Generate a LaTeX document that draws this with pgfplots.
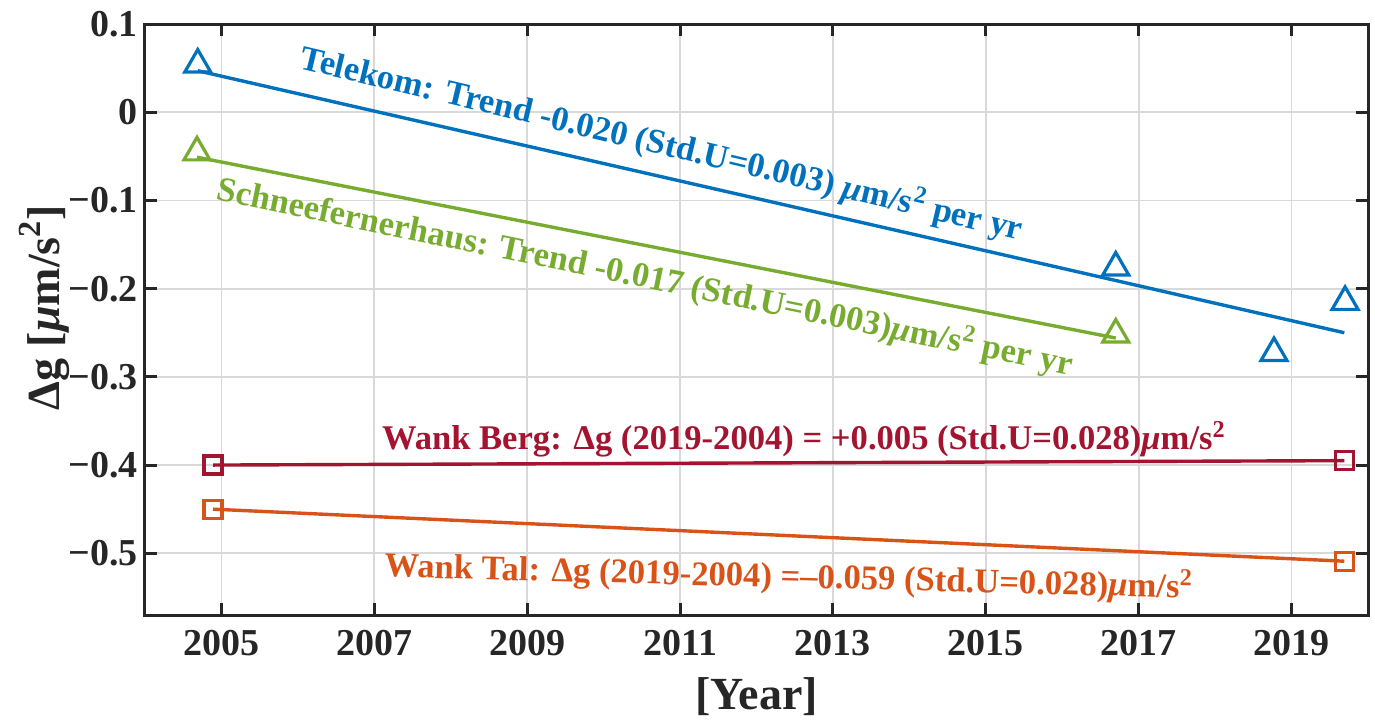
\documentclass[border=0pt]{standalone}
\usepackage{fontspec}
\setmainfont{Liberation Serif}
\usepackage{pgfplots}
\pgfplotsset{compat=1.18}
\definecolor{mblue}{rgb}{0,0.447,0.741}
\definecolor{mgreen}{rgb}{0.466,0.674,0.188}
\definecolor{mred}{rgb}{0.635,0.078,0.184}
\definecolor{morange}{rgb}{0.85,0.325,0.098}
\newcommand{\annfont}{\fontsize{17.3}{17.3}\selectfont\bfseries}
\begin{document}
\begin{tikzpicture}
\useasboundingbox (-72.5pt,-52.5pt) rectangle (615pt,307.5pt);
\begin{axis}[
  at={(0,0)}, anchor=south west,
  scale only axis, width=611.5pt, height=295.5pt,
  xmin=2004, xmax=2020, ymin=-0.57, ymax=0.1,
  xtick={2005,2007,2009,2011,2013,2015,2017,2019},
  xticklabels={2005,2007,2009,2011,2013,2015,2017,2019},
  ytick={-0.5,-0.4,-0.3,-0.2,-0.1,0,0.1},
  yticklabels={−0.5,−0.4,−0.3,−0.2,−0.1,0,0.1},
  tick align=inside, major tick length=6pt,
  axis line style={line width=1.5pt, black!85},
  every tick/.style={line width=1.5pt, black!85},
  grid=major, grid style={black!15, line width=0.9pt},
  ticklabel style={font=\fontsize{19}{19}\selectfont\bfseries, text=black!85},
  xticklabel style={yshift=-4pt},
  xlabel={[Year]},
  xlabel style={at={(axis description cs:0.5,0)}, anchor=base, yshift=-47pt, font=\fontsize{23}{23}\selectfont\bfseries, text=black!85},
  ylabel={Δg [\textit{μ}m/s\textsuperscript{2}]},
  ylabel style={at={(axis description cs:-0.0703,0.52)}, anchor=base, font=\fontsize{23}{23}\selectfont\bfseries, text=black!85},
  clip=false,
]
% Telekom
\addplot[mblue, line width=1.7pt, only marks, mark=triangle, mark size=7.5pt, mark options={line width=1.6pt}]
  coordinates {(2004.69,0.054) (2016.70,-0.176) (2018.77,-0.273) (2019.70,-0.215)};
\addplot[mblue, line width=1.7pt, no marks] coordinates {(2004.69,0.047) (2019.69,-0.250)};
% Schneefernerhaus
\addplot[mgreen, line width=1.7pt, only marks, mark=triangle, mark size=7.5pt, mark options={line width=1.6pt}]
  coordinates {(2004.68,-0.0455) (2016.70,-0.252)};
\addplot[mgreen, line width=1.7pt, no marks] coordinates {(2004.68,-0.051) (2016.70,-0.256)};
% Wank Berg
\addplot[mred, line width=1.7pt, mark=square, mark size=4.5pt, mark options={line width=1.6pt}]
  coordinates {(2004.89,-0.400) (2019.69,-0.395)};
% Wank Tal
\addplot[morange, line width=1.7pt, mark=square, mark size=4.5pt, mark options={line width=1.6pt}]
  coordinates {(2004.89,-0.450) (2019.69,-0.509)};

\node[text=mblue, rotate=-13.4, inner sep=0pt] at (axis cs:2010.76,-0.036)
  {\annfont Telekom: Trend -0.020 (Std.U=0.003) \textit{μ}m/s\textsuperscript{2} per yr};
\node[text=mgreen, rotate=-11.6, inner sep=0pt] at (axis cs:2010.54,-0.187)
  {\annfont Schneefernerhaus: Trend -0.017 (Std.U=0.003)\textit{μ}m/s\textsuperscript{2} per yr};
\node[text=mred, inner sep=0pt] at (axis cs:2012.62,-0.371)
  {\annfont Wank Berg: Δg (2019-2004) = +0.005 (Std.U=0.028)\textit{μ}m/s\textsuperscript{2}};
\node[text=morange, rotate=-1.5, inner sep=0pt] at (axis cs:2012.42,-0.527)
  {\annfont Wank Tal: Δg (2019-2004) =–0.059 (Std.U=0.028)\textit{μ}m/s\textsuperscript{2}};
\end{axis}
\end{tikzpicture}
\end{document}
